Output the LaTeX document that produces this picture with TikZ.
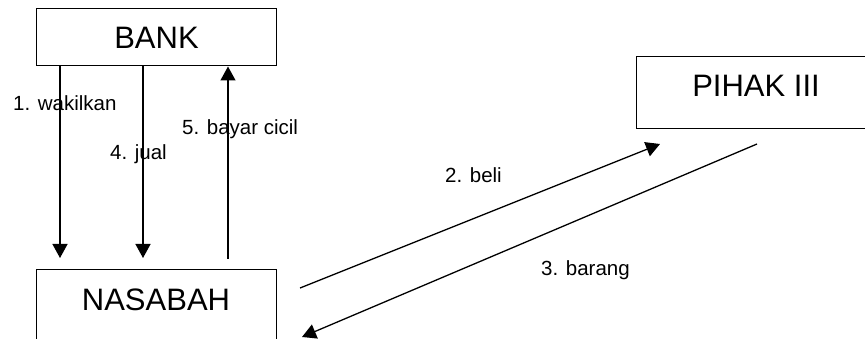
\documentclass[tikz,border=0pt]{standalone}
\usepackage{fontspec}
\setmainfont{Liberation Sans}
\usetikzlibrary{arrows.meta,positioning}
\tikzset{
	party/.style={draw,line width=1pt,minimum width=240pt,inner xsep=0pt,inner ysep=18pt,
		text height=22pt,text depth=14pt,font=\fontsize{31}{31}\selectfont},
	lbl/.style={anchor=base west,inner sep=0pt,font=\fontsize{20.5}{20.5}\selectfont},
	flow/.style={line width=1.3pt,-{Triangle[length=14pt,width=15pt]}}
}

\begin{document}
\begin{tikzpicture}[x=1pt,y=-1pt]
	\useasboundingbox (0,0) rectangle (865,339);
	\clip (0,0) rectangle (865,339);

	\node[party,text depth=0pt,inner ysep=17.5pt] (bank) at (156.5,37.5) {BANK};
	\node[party] (nasabah) at (156,306) {NASABAH};
	\node[party] (pihak) at (756,93) {PIHAK III};

	% ends of the arrows
	\coordinate (w1) at (60,258);
	\coordinate (j4) at (143,258);
	\coordinate (c5) at (228,259);
	\coordinate (b2s) at (300,288);
	\coordinate (b2e) at (660,144);
	\coordinate (g3s) at (757,144);
	\coordinate (g3e) at (302,337);

	\draw[flow] (bank.south -| w1) -- (w1);
	\draw[flow] (bank.south -| j4) -- (j4);
	\draw[flow] (c5) -- (bank.south -| c5);
	\draw[flow] (b2s) -- (b2e);
	\draw[flow] (g3s) -- (g3e);

	\node[lbl] (lw) at (13,111) {1. wakilkan};
	\node[lbl] (lj) at (110,160) {4. jual};
	\node[lbl] (lc) at (182,135) {5. bayar cicil};
	\node[lbl] (lb) at (445,183) {2. beli};
	\node[lbl] (lg) at (541,276) {3. barang};

\end{tikzpicture}
\end{document}
